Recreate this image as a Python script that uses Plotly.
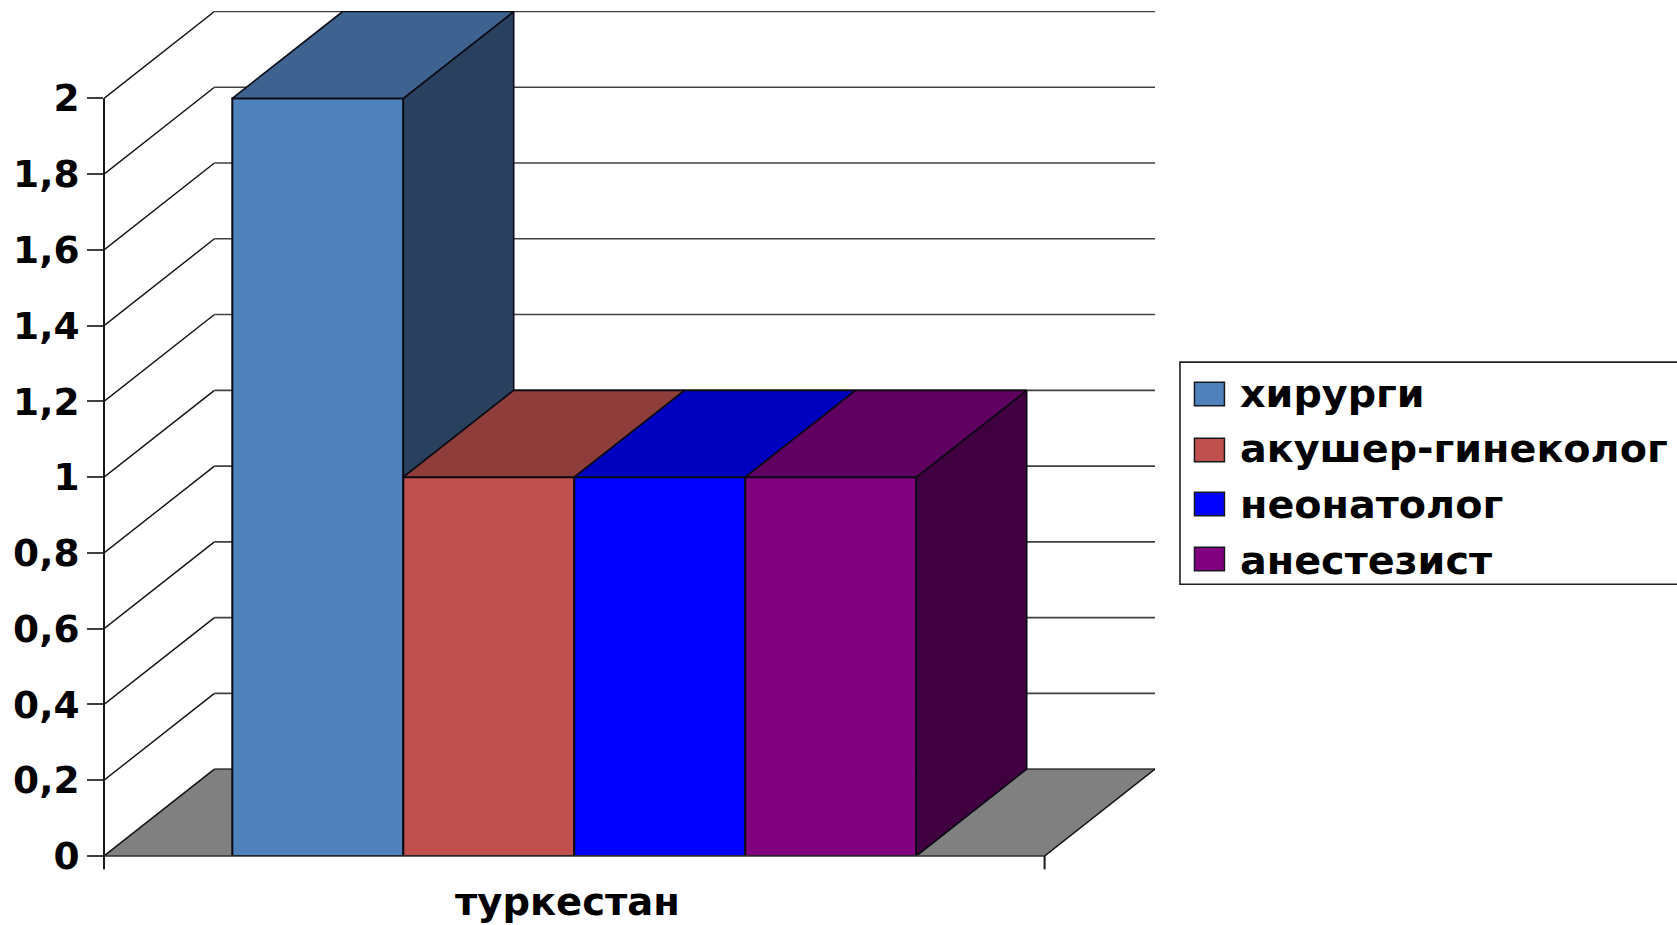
import plotly.graph_objects as go

# Chart data
category = "туркестан"
series_names = ["хирурги", "акушер-гинеколог", "неонатолог", "анестезист"]
series_values = [2, 1, 1, 1]
front_colors = ["#4F81BD", "#C0504D", "#0000FF", "#800080"]
top_colors = ["#3F6390", "#8E3D3A", "#0000C0", "#600060"]
side_colors = ["#29405F", "#5E2624", "#000080", "#400040"]
y_ticks = [0, 0.2, 0.4, 0.6, 0.8, 1, 1.2, 1.4, 1.6, 1.8, 2]
y_tick_labels = ["0", "0,2", "0,4", "0,6", "0,8", "1", "1,2", "1,4", "1,6", "1,8", "2"]

# Figure and plot-box geometry, in pixels
W, H = 1677, 925
L, R, T, B = 103.6, 1155.5, 11.0, 855.7
PX_X = 941.4   # pixels per x unit (front plane spans one unit)
PX_Y = 378.7   # pixels per y unit
DX = (R - L - PX_X) / PX_X   # depth shear along x
DY = 86.8 / PX_Y             # depth shear along y
X0, X1 = -0.5, 0.5
BAR_GAP = 2 * 128.4 / PX_X
BAR_W = (1 - BAR_GAP) / len(series_values)

INK = "#0A0A14"
GRID = "#404040"
TEXT_FONT = "DejaVu Sans"


def paper_x(px):
    return (px - L) / (R - L)


def paper_y(py):
    return (B - py) / (B - T)


fig = go.Figure()

# Front faces of the columns
for name, value, color in zip(series_names, series_values, front_colors):
    fig.add_trace(go.Bar(
        x=[0], y=[value], name=name,
        marker=dict(color=color, line=dict(color=INK, width=2)),
        showlegend=False,
    ))

# Side and top faces, sheared back by the depth offset
for i, (value, top, side) in enumerate(zip(series_values, top_colors, side_colors)):
    left = X0 + BAR_GAP / 2 + i * BAR_W
    right = left + BAR_W
    next_value = series_values[i + 1] if i + 1 < len(series_values) else 0
    floor = min(next_value, value)
    fig.add_trace(go.Scatter(
        x=[right, right + DX, right + DX, right, right],
        y=[floor, floor + DY, value + DY, value, floor],
        mode="lines", fill="toself", fillcolor=side,
        line=dict(color=INK, width=1.6), hoverinfo="skip", showlegend=False,
    ))
    fig.add_trace(go.Scatter(
        x=[left, left + DX, right + DX, right, left],
        y=[value, value + DY, value + DY, value, value],
        mode="lines", fill="toself", fillcolor=top,
        line=dict(color=INK, width=1.6), hoverinfo="skip", showlegend=False,
    ))

shapes = []

# Floor
shapes.append(dict(
    type="path", layer="below", xref="x", yref="y",
    path=f"M{X0},0 L{X1},0 L{X1 + DX},{DY} L{X0 + DX},{DY} Z",
    fillcolor="#808080", line=dict(width=0),
))
shapes.append(dict(type="line", layer="below", xref="x", yref="y",
                   x0=X0 + DX, x1=X1 + DX, y0=DY, y1=DY,
                   line=dict(color=GRID, width=1.6)))
shapes.append(dict(type="line", layer="below", xref="x", yref="y",
                   x0=X0, x1=X0 + DX, y0=0, y1=DY,
                   line=dict(color="#101010", width=1.5)))
shapes.append(dict(type="line", layer="below", xref="x", yref="y",
                   x0=X1, x1=X1 + DX, y0=0, y1=DY,
                   line=dict(color="#101010", width=1.5)))

# Gridlines on the side and back walls
for v in y_ticks[1:]:
    shapes.append(dict(type="line", layer="below", xref="x", yref="y",
                       x0=X0, x1=X0 + DX, y0=v, y1=v + DY,
                       line=dict(color="#101010", width=1.4)))
    shapes.append(dict(type="line", layer="below", xref="x", yref="y",
                       x0=X0 + DX, x1=X1 + DX, y0=v + DY, y1=v + DY,
                       line=dict(color=GRID, width=1.6)))

# Axis lines and the end ticks below the floor edge
axis_line = dict(color="#181818", width=2)
front_right_px = L + PX_X
top_px = B - max(y_ticks) * PX_Y
shapes.append(dict(type="line", xref="paper", yref="paper",
                   x0=paper_x(L), x1=paper_x(L),
                   y0=paper_y(869), y1=paper_y(top_px), line=axis_line))
shapes.append(dict(type="line", xref="paper", yref="paper",
                   x0=paper_x(L), x1=paper_x(front_right_px),
                   y0=paper_y(B), y1=paper_y(B), line=dict(color="#303030", width=1.6)))
shapes.append(dict(type="line", xref="paper", yref="paper",
                   x0=paper_x(front_right_px), x1=paper_x(front_right_px),
                   y0=paper_y(869), y1=paper_y(B), line=axis_line))

# Legend panel, running off the right edge of the page
shapes.append(dict(type="rect", xref="paper", yref="paper",
                   x0=paper_x(1180.5), x1=paper_x(1700),
                   y0=paper_y(584), y1=paper_y(362),
                   fillcolor="white", line=dict(color="#202020", width=1.6)))

annotations = []
swatch_tops = [382, 438, 492, 547]
label_mids = [393, 448, 504, 560]
for sw_top, mid_px, name, color in zip(swatch_tops, label_mids, series_names, front_colors):
    shapes.append(dict(type="rect", xref="paper", yref="paper",
                       x0=paper_x(1195), x1=paper_x(1225),
                       y0=paper_y(sw_top + 23.5), y1=paper_y(sw_top),
                       fillcolor=color, line=dict(color="#181820", width=1.5)))
    annotations.append(dict(xref="paper", yref="paper",
                            x=paper_x(1239), y=paper_y(mid_px),
                            xanchor="left", yanchor="middle", showarrow=False,
                            text=f"<b>{name}</b>",
                            font=dict(family=TEXT_FONT, size=39.7, color="black")))

# Category label under the floor
annotations.append(dict(xref="paper", yref="paper",
                        x=paper_x(567.5), y=paper_y(901),
                        xanchor="center", yanchor="middle", showarrow=False,
                        text=f"<b>{category}</b>",
                        font=dict(family=TEXT_FONT, size=38.5, color="black")))

fig.update_layout(
    width=W, height=H,
    margin=dict(l=L, r=W - R, t=T, b=H - B, pad=0),
    paper_bgcolor="white", plot_bgcolor="white",
    barmode="group", bargap=BAR_GAP, bargroupgap=0,
    shapes=shapes, annotations=annotations,
    showlegend=False,
    font=dict(family=TEXT_FONT, color="black"),
)
fig.update_xaxes(
    range=[X0, X0 + (R - L) / PX_X],
    showgrid=False, zeroline=False, showline=False,
    showticklabels=False, ticks="",
)
fig.update_yaxes(
    range=[0, (B - T) / PX_Y],
    tickmode="array", tickvals=y_ticks, ticktext=[f"<b>{t}</b>" for t in y_tick_labels],
    ticks="outside", ticklen=16, tickwidth=1.5, tickcolor=GRID,
    tickfont=dict(family=TEXT_FONT, size=37.5, color="black"),
    showgrid=False, zeroline=False, showline=False,
)

fig.write_html("out.html")
